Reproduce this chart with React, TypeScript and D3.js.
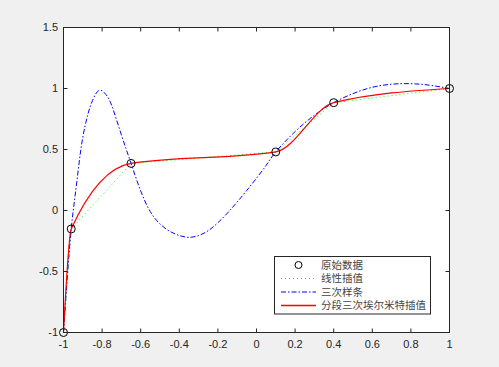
import React from "react";
import * as d3 from "d3";

const xData = [-1, -0.96, -0.65, 0.1, 0.4, 1];
const yData = [-1, -0.1512, 0.386, 0.4802, 0.8838, 1];

// cubic spline curve
const splineX = [-1, -0.98, -0.96, -0.94, -0.92, -0.9, -0.875, -0.85, -0.815, -0.78, -0.75, -0.7, -0.65, -0.6, -0.55, -0.5, -0.45, -0.4, -0.35, -0.3, -0.25, -0.2, -0.15, -0.1, -0.05, 0, 0.05, 0.1, 0.2, 0.3, 0.4, 0.5, 0.6, 0.7, 0.78, 0.85, 0.92, 1];
const splineY = [-1, -0.54, -0.151, 0.12, 0.38, 0.6, 0.78, 0.9, 0.985, 0.95, 0.86, 0.62, 0.386, 0.16, -0.01, -0.11, -0.17, -0.205, -0.22, -0.205, -0.165, -0.1, -0.02, 0.07, 0.165, 0.265, 0.37, 0.4802, 0.647, 0.781, 0.8838, 0.958, 1.01, 1.035, 1.04, 1.035, 1.022, 1.0];

const xTicks = [-1, -0.8, -0.6, -0.4, -0.2, 0, 0.2, 0.4, 0.6, 0.8, 1];
const yTicks = [-1, -0.5, 0, 0.5, 1, 1.5];

const legendLabels = ["原始数据", "线性插值", "三次样条", "分段三次埃尔米特插值"];

const W = 499, H = 367;
const L = 63.5, R = 449.5, T = 27.5, B = 332.5;
const AX = "#262626";

export default function App() {
  const x = d3.scaleLinear().domain([-1, 1]).range([L, R]);
  const y = d3.scaleLinear().domain([-1, 1.5]).range([B, T]);
  const pts = xData.map((v, i) => [v, yData[i]] as [number, number]);
  const spts = splineX.map((v, i) => [v, splineY[i]] as [number, number]);

  const linear = d3.line<[number, number]>().x(d => x(d[0])).y(d => y(d[1])).curve(d3.curveLinear)(pts) || "";
  const pchip = d3.line<[number, number]>().x(d => x(d[0])).y(d => y(d[1])).curve(d3.curveMonotoneX)(pts) || "";
  const spline = d3.line<[number, number]>().x(d => x(d[0])).y(d => y(d[1])).curve(d3.curveNatural)(spts) || "";

  const tickLen = 4;
  const font = "'Liberation Sans', Arial, Helvetica, sans-serif";
  const cjk = "'Noto Sans CJK SC', sans-serif";

  const lgX = 274.5, lgY = 256.5, lgW = 156, lgH = 57.5;
  const rows = [265, 278.5, 292, 305.5];

  return (
    <svg width={W} height={H} style={{ position: "absolute", left: 0, top: 0, display: "block" }}>
      <rect x={0} y={0} width={W} height={H} fill="#f0f0f0" />
      <rect x={L} y={T} width={R - L} height={B - T} fill="#ffffff" />

      <defs>
        <clipPath id="plotclip">
          <rect x={L} y={T - 1} width={R - L} height={B - T + 2} />
        </clipPath>
      </defs>

      <g clipPath="url(#plotclip)">
        <path d={linear} fill="none" stroke="#00ff00" strokeWidth={1} strokeDasharray="1,3" />
        <path d={spline} fill="none" stroke="#0000ff" strokeWidth={1} strokeDasharray="5,2,1.5,2" />
        <path d={pchip} fill="none" stroke="#ff0000" strokeWidth={1.2} />
      </g>
      {pts.map((p, i) => (
        <circle key={i} cx={x(p[0])} cy={y(p[1])} r={4} fill="none" stroke="#000" strokeWidth={1} />
      ))}

      {/* box */}
      <rect x={L} y={T} width={R - L} height={B - T} fill="none" stroke={AX} strokeWidth={1} />

      {xTicks.map((t, i) => (
        <g key={"xt" + i}>
          <line x1={x(t)} x2={x(t)} y1={B} y2={B - tickLen} stroke={AX} />
          <line x1={x(t)} x2={x(t)} y1={T} y2={T + tickLen} stroke={AX} />
          <text x={x(t)} y={347.5} textAnchor="middle" fontFamily={font} fontSize={11} fill={AX}>{String(t)}</text>
        </g>
      ))}
      {yTicks.map((t, i) => (
        <g key={"yt" + i}>
          <line x1={L} x2={L + tickLen} y1={y(t)} y2={y(t)} stroke={AX} />
          <line x1={R} x2={R - tickLen} y1={y(t)} y2={y(t)} stroke={AX} />
          <text x={58} y={y(t)} dy="0.35em" textAnchor="end" fontFamily={font} fontSize={11} fill={AX}>{String(t)}</text>
        </g>
      ))}

      {/* legend */}
      <rect x={lgX} y={lgY} width={lgW} height={lgH} fill="#ffffff" stroke={AX} strokeWidth={1} />
      <circle cx={298.5} cy={rows[0]} r={3.5} fill="none" stroke="#000" strokeWidth={1} />
      <line x1={281} x2={316} y1={rows[1]} y2={rows[1]} stroke="#00ff00" strokeWidth={1} strokeDasharray="1,3" />
      <line x1={281} x2={316} y1={rows[2]} y2={rows[2]} stroke="#0000ff" strokeWidth={1} strokeDasharray="5,2,1.5,2" />
      <line x1={281} x2={316} y1={rows[3]} y2={rows[3]} stroke="#ff0000" strokeWidth={1.5} />
      {legendLabels.map((s, i) => (
        <text key={"lg" + i} x={321} y={rows[i]} dy="0.36em" fontFamily={cjk} fontSize={10.5} fill="#444">{s}</text>
      ))}
    </svg>
  );
}
